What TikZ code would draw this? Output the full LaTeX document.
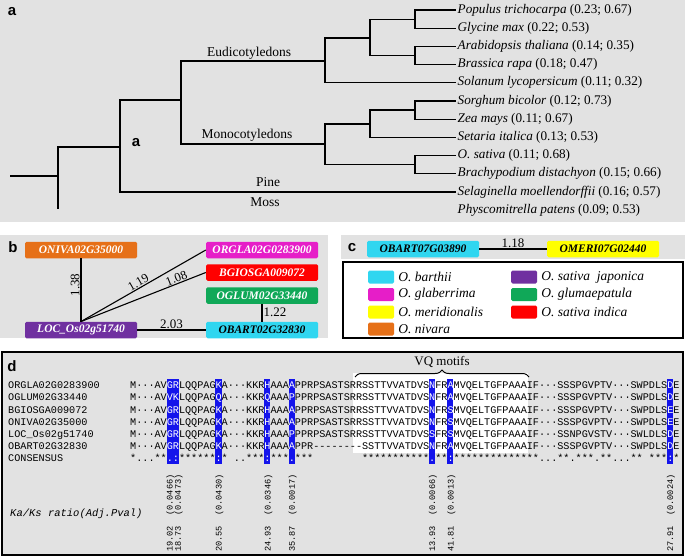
\documentclass[tikz,border=0pt]{standalone}
\usepackage{fontspec}
\setmainfont{Liberation Serif}
\setsansfont{Liberation Sans}
\newfontfamily\alnfont{Liberation Mono}
\usetikzlibrary{positioning,decorations.pathreplacing}

\definecolor{panelgray}{RGB}{226,226,226}
\definecolor{cbarthii}{RGB}{48,214,240}
\definecolor{cglab}{RGB}{230,30,200}
\definecolor{cmerid}{RGB}{255,255,0}
\definecolor{cnivara}{RGB}{230,112,24}
\definecolor{cjapon}{RGB}{112,48,160}
\definecolor{cglum}{RGB}{16,168,88}
\definecolor{cindica}{RGB}{255,0,0}
\definecolor{hlblue}{RGB}{20,20,235}

\newcommand\fsz[1]{\fontsize{#1}{#1}\selectfont}
\newcommand\wh[1]{\textcolor{white}{#1}}
\newcommand\dg{\hbox{-}}

\tikzset{
  plabel/.style={font=\sffamily\bfseries\fsz{15}, inner sep=0pt},
  branch/.style={line width=1.1pt},
  leaf/.style={anchor=west, inner sep=1.5pt, font=\fsz{13.2}},
  clade/.style={font=\fsz{13.5}, inner sep=1pt},
  gene/.style={rounded corners=1.5pt, minimum width=112pt, minimum height=16.5pt,
    inner sep=0pt, font=\bfseries\itshape\fsz{11.5}, text=white},
  dist/.style={font=\fsz{13}, inner sep=1pt},
  swatch/.style={rounded corners=1.5pt, minimum width=26pt, minimum height=13pt, inner sep=0pt},
  legtext/.style={font=\itshape\fsz{13.5}, inner sep=0pt, anchor=west},
  seqname/.style={anchor=base west, inner sep=0pt, font=\alnfont\fsz{10.17}},
  seq/.style={anchor=base west, inner sep=0pt, font=\alnfont\fsz{10.17}\frenchspacing},
  ratio/.style={rotate=90, anchor=west, inner sep=0pt, font=\alnfont\fsz{8.6}},
}

\begin{document}
\begin{tikzpicture}[x=1pt, y=-1pt]
  \useasboundingbox (0,0) rectangle (685,556);

  % a: species tree
  \fill[panelgray] (0,0) rectangle (685,222);
  \node[plabel] (la) at (12,12) {a};
  \node[leaf] (populus) at (456,10) {\textit{Populus trichocarpa} (0.23; 0.67)};
  \node[leaf] (glycine) at (456,28.2) {\textit{Glycine max} (0.22; 0.53)};
  \node[leaf] (arabid) at (456,46.4) {\textit{Arabidopsis thaliana} (0.14; 0.35)};
  \node[leaf] (brassica) at (456,64.6) {\textit{Brassica rapa} (0.18; 0.47)};
  \node[leaf] (solanum) at (456,82.8) {\textit{Solanum lycopersicum} (0.11; 0.32)};
  \node[leaf] (sorghum) at (456,101) {\textit{Sorghum bicolor} (0.12; 0.73)};
  \node[leaf] (zea) at (456,119.2) {\textit{Zea mays} (0.11; 0.67)};
  \node[leaf] (setaria) at (456,137.4) {\textit{Setaria italica} (0.13; 0.53)};
  \node[leaf] (osativa) at (456,155.6) {\textit{O. sativa} (0.11; 0.68)};
  \node[leaf] (brachy) at (456,173.8) {\textit{Brachypodium distachyon} (0.15; 0.66)};
  \node[leaf] (selag) at (456,192) {\textit{Selaginella moellendorffii} (0.16; 0.57)};
  \node[leaf] (physco) at (456,210.2) {\textit{Physcomitrella patens} (0.09; 0.53)};

  \coordinate (root) at (10,176);
  \coordinate (n1) at (58,176);
  \coordinate (mossend) at (58,209);
  \coordinate (n2) at (120,147);
  \coordinate (n3) at (181,100);
  \coordinate (eud) at (325,61);
  \coordinate (mono) at (325,144);
  \coordinate (e1) at (370,38);
  \coordinate (e2) at (415,19.1);
  \coordinate (e3) at (415,55.5);
  \coordinate (m1) at (370,124);
  \coordinate (m3) at (415,110);
  \coordinate (m2) at (415,164.7);

  \draw[branch] (root) -- (n1) |- (n2);
  \draw[branch] (n1) -- (mossend);
  \draw[branch] (n2) |- (n3);
  \draw[branch] (n2) |- (selag.west);
  \draw[branch] (n3) |- (eud);
  \draw[branch] (n3) |- (mono);
  \draw[branch] (eud) |- (e1);
  \draw[branch] (eud) |- (solanum.west);
  \draw[branch] (e1) |- (e2);
  \draw[branch] (e1) |- (e3);
  \draw[branch] (e2) |- (populus.west);
  \draw[branch] (e2) |- (glycine.west);
  \draw[branch] (e3) |- (arabid.west);
  \draw[branch] (e3) |- (brassica.west);
  \draw[branch] (mono) |- (m1);
  \draw[branch] (mono) |- (m2);
  \draw[branch] (m1) |- (m3);
  \draw[branch] (m1) |- (setaria.west);
  \draw[branch] (m3) |- (sorghum.west);
  \draw[branch] (m3) |- (zea.west);
  \draw[branch] (m2) |- (osativa.west);
  \draw[branch] (m2) |- (brachy.west);

  \node[clade] (eudlab) at (249,53) {Eudicotyledons};
  \node[clade] (monolab) at (247,135.5) {Monocotyledons};
  \node[clade] (pinelab) at (268,182) {Pine};
  \node[clade] (mosslab) at (265,202) {Moss};
  \node[plabel] (la2) at (136,143) {a};

  % b: gene pairs
  \fill[panelgray] (0,235) rectangle (328,338);
  \node[plabel] (lb) at (13,247) {b};
  \node[gene, fill=cnivara] (oniva) at (81,250) {ONIVA02G35000};
  \node[gene, fill=cglab] (orgla) at (262,250) {ORGLA02G0283900};
  \node[gene, fill=cindica] (bgiosga) at (262,272.5) {BGIOSGA009072};
  \node[gene, fill=cglum] (oglum) at (262,295.5) {OGLUM02G33440};
  \node[gene, fill=cbarthii, text=black] (obart) at (262,330) {OBART02G32830};
  \node[gene, fill=cjapon] (loc) at (81,330) {LOC\_Os02g51740};
  \draw[branch] (oniva) -- node[dist, pos=0.42, rotate=90, anchor=south] {1.38} (loc);
  \draw[branch] (loc.north) -- node[dist, font=\fsz{12.5}, pos=0.48, sloped, above, inner sep=0.5pt] {1.19} (orgla.west);
  \draw[branch] (loc.north) -- node[dist, font=\fsz{12.5}, pos=0.78, sloped, above, inner sep=0.5pt] {1.08} (bgiosga.west);
  \draw[branch] (oglum) -- node[dist, right] {1.22} (obart);
  \draw[branch] (loc) -- node[dist, above] {2.03} (obart);

  % c: pair and legend
  \fill[panelgray] (341,235) rectangle (685,259);
  \node[plabel] (lc) at (352,248) {c};
  \node[gene, fill=cbarthii, text=black] (obart7) at (423,249) {OBART07G03890};
  \node[gene, fill=cmerid, text=black] (omeri) at (603,249) {OMERI07G02440};
  \draw[branch] (obart7) -- node[dist, above] {1.18} (omeri);

  \draw[line width=1.3pt, fill=white] (343,262) rectangle (683,338);
  \node[swatch, fill=cbarthii] (sw1) at (381,277) {};
  \node[swatch, fill=cglab] (sw2) at (381,294.5) {};
  \node[swatch, fill=cmerid] (sw3) at (381,312) {};
  \node[swatch, fill=cnivara] (sw4) at (381,329) {};
  \node[swatch, fill=cjapon] (sw5) at (524,277) {};
  \node[swatch, fill=cglum] (sw6) at (524,294.5) {};
  \node[swatch, fill=cindica] (sw7) at (524,312) {};
  \node[legtext, right=4pt of sw1] (t1) {O. barthii};
  \node[legtext, right=4pt of sw2] (t2) {O. glaberrima};
  \node[legtext, right=4pt of sw3] (t3) {O. meridionalis};
  \node[legtext, right=4pt of sw4] (t4) {O. nivara};
  \node[legtext, right=4pt of sw5] (t5) {O. sativa\ \ japonica};
  \node[legtext, right=4pt of sw6] (t6) {O. glumaepatula};
  \node[legtext, right=4pt of sw7] (t7) {O. sativa indica};

  % d: alignment
  \draw[line width=1.5pt, fill=panelgray] (2,352) rectangle (683,555);
  \node[plabel] (ld) at (12,366) {d};
  \fill[white] (353,373) rectangle (528,453);
  \draw[decorate, decoration={brace, amplitude=7pt}, line width=1pt] (355,377) -- (529,377);
  \node[font=\fsz{13}, inner sep=0pt] (vq) at (442,362) {VQ motifs};

  % highlighted columns
  \fill[hlblue] (166.6,379) rectangle (178.8,464);
  \fill[hlblue] (215.4,379) rectangle (221.5,464);
  \fill[hlblue] (264.2,379) rectangle (270.3,464);
  \fill[hlblue] (288.7,379) rectangle (294.8,464);
  \fill[hlblue] (428.9,379) rectangle (435.1,464);
  \fill[hlblue] (447.3,379) rectangle (453.4,464);
  \fill[hlblue] (667.0,379) rectangle (673.1,464);

  \node[seqname] (n1) at (8,388.6) {ORGLA02G0283900};
  \node[seqname] (n2) at (8,400.8) {OGLUM02G33440};
  \node[seqname] (n3) at (8,413) {BGIOSGA009072};
  \node[seqname] (n4) at (8,425.2) {ONIVA02G35000};
  \node[seqname] (n5) at (8,437.4) {LOC\_Os02g51740};
  \node[seqname] (n6) at (8,449.6) {OBART02G32830};
  \node[seqname] (n7) at (8,461.8) {CONSENSUS};

  \node[seq] (s1) at (130,388.6) {M···AV\wh{GR}LQQPAG\wh{K}A···KKR\wh{H}AAA\wh{A}PPRPSASTSRRSSTTVVATDVS\wh{N}FR\wh{A}MVQELTGFPAAAIF···SSSPGVPTV···SWPDLS\wh{D}E};
  \node[seq] (s2) at (130,400.8) {M···AV\wh{VK}LQQPAG\wh{Q}A···KKR\wh{Q}AAA\wh{P}PPRPSASTSRRSSTTVVATDVS\wh{N}FR\wh{A}MVQELTGFPAAAIF···SSSPGVPTV···SWPDLS\wh{D}E};
  \node[seq] (s3) at (130,413) {M···AV\wh{GR}LQQPAG\wh{K}A···KKR\wh{H}AAA\wh{A}PPRPSASTSRRSSTTVVATDVS\wh{N}FR\wh{S}MVQELTGFPAAAIF···SSSPGVPTV···SWPDLS\wh{E}E};
  \node[seq] (s4) at (130,425.2) {M···AV\wh{GR}LQQPAG\wh{K}A···KKR\wh{H}AAA\wh{A}PPRPSASTSRRSSTTVVATDVS\wh{N}FR\wh{S}MVQELTGFPAAAIF···SSSPGVPTV···SWPDLS\wh{E}E};
  \node[seq] (s5) at (130,437.4) {M···AV\wh{GR}LQQPAG\wh{K}A···KKR\wh{H}AAA\wh{P}PPRPSASTSRRSSTTVVATDVS\wh{S}FR\wh{S}MVQELTGFPAAAIF···SSNPGVSTV···SWLDLS\wh{D}E};
  \node[seq] (s6) at (130,449.6) {M···AV\wh{GR}LQQPAG\wh{K}A···KKR\wh{H}AAA\wh{A}PPR\dg\dg\dg\dg\dg\dg\dg\dg SSTTVVATDVS\wh{N}FR\wh{A}MVQELTGFPAAAIF···SSSPGVPTV···SWPDLS\wh{D}E};
  \node[seq] (s7) at (130,461.8) {*...**\wh{.:}******\wh{:}*~..***\wh{:}***\wh{.}***~~~~~~~~***********\wh{.}**\wh{:}**************...**.***.**...**~***\wh{:}*};

  % Ka/Ks ratios
  \node[anchor=base west, inner sep=0pt, font=\alnfont\itshape\fsz{10.5}] (kaks) at (10,516) {Ka/Ks ratio(Adj.Pval)};
  \node[ratio] (r1) at (170.4,552) {19.02~~(0.0466)};
  \node[ratio] (r2) at (178.6,552) {18.73~~(0.0473)};
  \node[ratio] (r3) at (219.4,552) {20.55~~(0.0430)};
  \node[ratio] (r4) at (268.3,552) {24.93~~(0.0346)};
  \node[ratio] (r5) at (292.7,552) {35.87~~(0.0017)};
  \node[ratio] (r6) at (433,552) {13.93~~(0.0066)};
  \node[ratio] (r7) at (451.3,552) {41.81~~(0.0013)};
  \node[ratio] (r8) at (671,552) {27.91~~(0.0024)};
\end{tikzpicture}
\end{document}
